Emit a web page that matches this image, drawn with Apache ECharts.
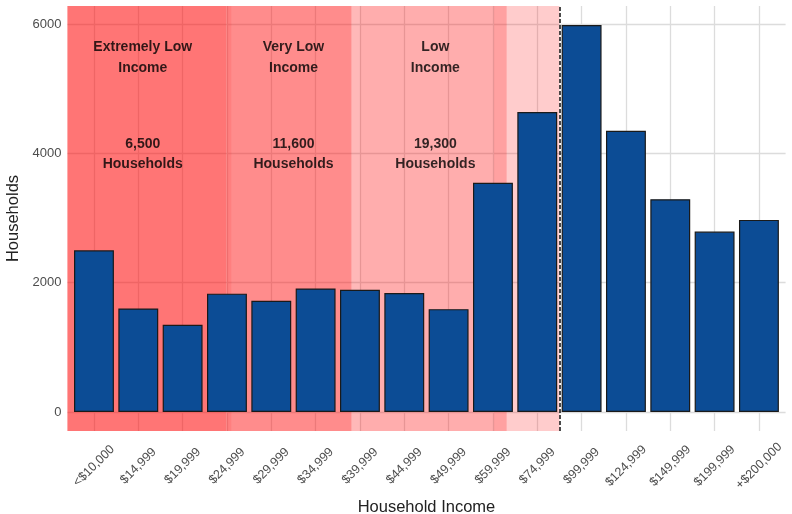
<!DOCTYPE html>
<html>
<head>
<meta charset="utf-8">
<script src="https://cdn.jsdelivr.net/npm/echarts@6/dist/echarts.min.js"></script>
<style>
  html, body { margin: 0; padding: 0; background: #fff; }
  #main { width: 792px; height: 514px; }
</style>
</head>
<body>
<div id="main"></div>
<script>
  // data
  const incomeLabels = ['<$10,000', '$14,999', '$19,999', '$24,999', '$29,999', '$34,999', '$39,999', '$44,999',
    '$49,999', '$59,999', '$74,999', '$99,999', '$124,999', '$149,999', '$199,999', '+$200,000'];
  const households = [2500, 1600, 1350, 1830, 1720, 1910, 1890, 1840, 1590, 3545, 4640, 5985, 4350, 3290, 2790, 2970];
  const yTicks = [0, 2000, 4000, 6000];

  // shaded income bands, on the bar index scale (1 = first bar)
  const bandEdges = [[0.4, 3.99], [3.99, 4.11], [4.11, 6.81], [6.81, 7.0], [7.0, 10.01], [10.01, 10.31], [10.31, 11.5]];
  const bandAlpha = [0.54, 0.5, 0.45, 0.28, 0.32, 0.37, 0.2];
  const cutoff = 11.5;

  // text notes: [x on bar index scale, households, text]
  const notes = [
    [2.1, 5482, 'Extremely Low\nIncome'],
    [5.5, 5482, 'Very Low\nIncome'],
    [8.7, 5482, 'Low\nIncome'],
    [2.1, 3987, '6,500\nHouseholds'],
    [5.5, 3987, '11,600\nHouseholds'],
    [8.7, 3987, '19,300\nHouseholds']
  ];

  const yMin = -294;
  const yMax = 6278;
  const font = "'Liberation Sans', Arial, sans-serif";

  const myChart = echarts.init(document.getElementById('main'));

  myChart.setOption({
    animation: false,
    textStyle: { fontFamily: font },
    grid: [
      // panel (shading, grid lines, notes)
      { left: 67.4, right: 6.4, top: 6, bottom: 83, containLabel: false, outerBoundsMode: 'none' },
      // bars, with ggplot's 0.6 band expansion
      { left: 71.8, right: 10.9, top: 6, bottom: 83, containLabel: false, outerBoundsMode: 'none' }
    ],
    xAxis: [
      { gridIndex: 0, type: 'value', min: 0.4, max: 16.6, show: false },
      {
        gridIndex: 1,
        type: 'category',
        data: incomeLabels,
        name: 'Household Income',
        nameLocation: 'middle',
        nameGap: 64,
        nameTextStyle: { fontSize: 16.5, color: '#222', fontFamily: font },
        axisLine: { show: false },
        axisTick: { show: false },
        splitLine: { show: false },
        axisLabel: {
          interval: 0,
          rotate: 45,
          align: 'center',
          verticalAlign: 'middle',
          margin: 35,
          fontSize: 12.5,
          color: '#4d4d4d'
        }
      }
    ],
    yAxis: [
      {
        gridIndex: 0,
        type: 'value',
        min: yMin,
        max: yMax,
        name: 'Households',
        nameLocation: 'middle',
        nameGap: 40,
        nameTextStyle: { fontSize: 16.5, color: '#222', fontFamily: font },
        axisLine: { show: false },
        axisTick: { show: false },
        splitLine: { show: false },
        axisLabel: {
          customValues: yTicks,
          formatter: v => String(v),
          fontSize: 13,
          color: '#4d4d4d',
          margin: 6
        }
      },
      { gridIndex: 1, type: 'value', min: yMin, max: yMax, show: false }
    ],
    series: [
      {
        // grid lines
        type: 'scatter',
        xAxisIndex: 0,
        yAxisIndex: 0,
        data: [],
        z: 0,
        silent: true,
        markLine: {
          z: 0,
          silent: true,
          symbol: 'none',
          label: { show: false },
          lineStyle: { color: '#dcdcdc', width: 1.3, type: 'solid' },
          data: yTicks.map(v => ({ yAxis: v })).concat(incomeLabels.map((_, i) => ({ xAxis: i + 1 })))
        }
      },
      {
        // income bands
        type: 'scatter',
        xAxisIndex: 0,
        yAxisIndex: 0,
        data: [],
        z: 1,
        silent: true,
        markArea: {
          z: 1,
          silent: true,
          data: bandEdges.map((b, i) => [
            { xAxis: b[0], itemStyle: { color: 'rgba(255,0,0,' + bandAlpha[i] + ')' } },
            { xAxis: b[1] }
          ])
        }
      },
      {
        type: 'bar',
        xAxisIndex: 1,
        yAxisIndex: 1,
        data: households,
        barWidth: '90%',
        z: 2,
        itemStyle: { color: '#0c4c95', borderColor: '#1a1a1a', borderWidth: 1.2 }
      },
      {
        // dashed cutoff line
        type: 'scatter',
        xAxisIndex: 0,
        yAxisIndex: 0,
        data: [],
        z: 3,
        silent: true,
        markLine: {
          z: 3,
          silent: true,
          symbol: 'none',
          label: { show: false },
          lineStyle: { color: '#111', width: 1.5, type: [4, 2] },
          data: [{ xAxis: cutoff }]
        }
      },
      {
        type: 'scatter',
        xAxisIndex: 0,
        yAxisIndex: 0,
        z: 4,
        silent: true,
        symbolSize: 1,
        itemStyle: { color: 'rgba(0,0,0,0)' },
        data: notes,
        label: {
          show: true,
          position: 'inside',
          formatter: p => p.data[2],
          fontSize: 14,
          fontWeight: 'bold',
          color: '#000',
          lineHeight: 20.5,
          align: 'center',
          verticalAlign: 'middle'
        }
      }
    ]
  });

  window.addEventListener('resize', () => {
    myChart.resize();
  });
</script>
</body>
</html>
